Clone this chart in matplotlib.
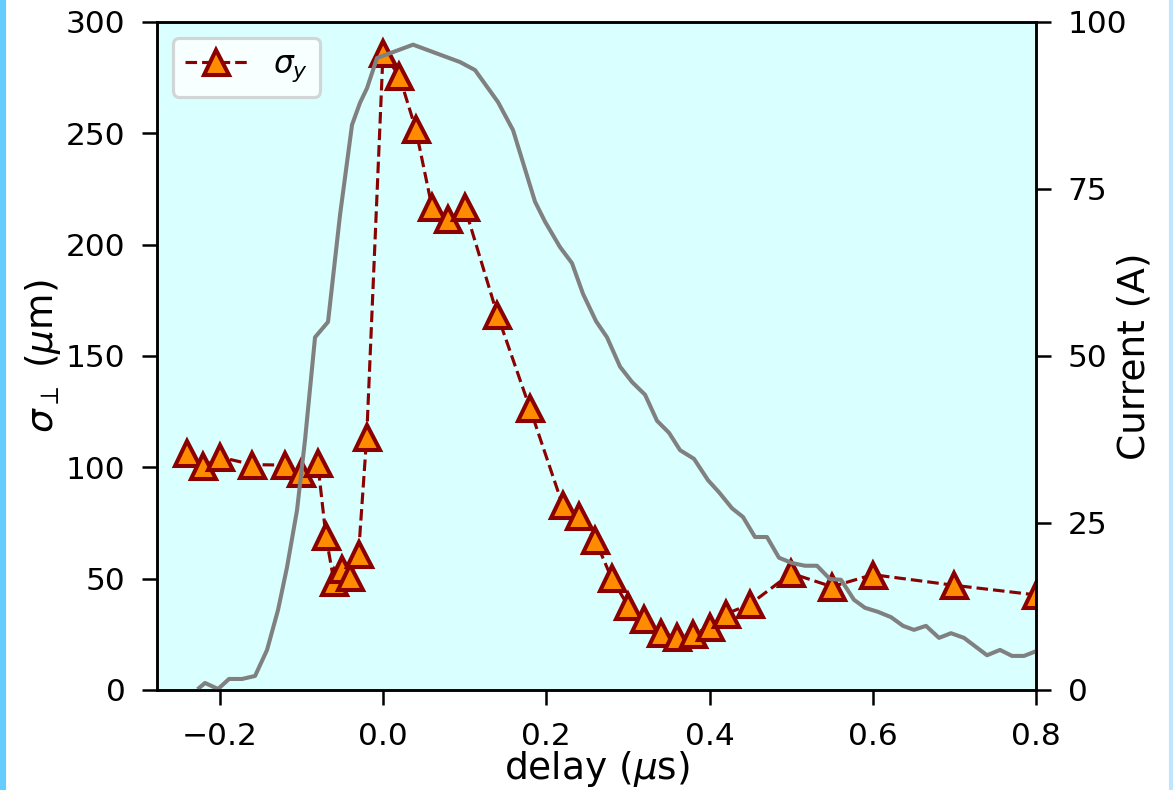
import numpy as np
import matplotlib
matplotlib.use('Agg')
import matplotlib.pyplot as plt
from matplotlib.patches import Rectangle

# -- data -- #
# --------------------------------- #
# beam size (sigma_y) vs delay
delay = [-0.24, -0.22, -0.20, -0.16, -0.12, -0.10, -0.08, -0.07, -0.06, -0.05,
         -0.04, -0.03, -0.02, 0.00, 0.02, 0.04, 0.06, 0.08, 0.10, 0.14,
         0.18, 0.22, 0.24, 0.26, 0.28, 0.30, 0.32, 0.34, 0.36, 0.38,
         0.40, 0.42, 0.45, 0.50, 0.55, 0.60, 0.70, 0.80]
sigma_y = [106.4, 100.7, 104.6, 101.2, 101.0, 97.4, 102.0, 69.2, 48.4, 54.4,
           50.9, 61.2, 113.8, 286.2, 275.7, 252.0, 216.8, 211.7, 217.0, 168.6,
           126.5, 83.1, 78.1, 67.4, 50.2, 37.9, 32.0, 25.4, 24.0, 25.1,
           28.4, 34.1, 38.6, 52.4, 46.4, 51.8, 47.0, 42.7]

# beam current trace (A)
t_cur = [-0.2254, -0.2181, -0.2021, -0.1887, -0.1727, -0.1568, -0.1421, -0.1286,
         -0.1176, -0.1054, -0.0956, -0.0833, -0.0674, -0.0527, -0.0380, -0.0282,
         -0.0196, -0.0074, 0.0368, 0.0943, 0.1127, 0.1409, 0.1593, 0.1862,
         0.1985, 0.2168, 0.2315, 0.2450, 0.2610, 0.2744, 0.2904, 0.3051,
         0.3210, 0.3357, 0.3504, 0.3639, 0.3810, 0.3982, 0.4116, 0.4276,
         0.4410, 0.4557, 0.4704, 0.4851, 0.5011, 0.5170, 0.5317, 0.5476,
         0.5611, 0.5770, 0.5905, 0.6064, 0.6224, 0.6371, 0.6505, 0.6652,
         0.6812, 0.6959, 0.7118, 0.7400, 0.7559, 0.7706, 0.7853, 0.8000]
current = [0.3, 1.05, 0.15, 1.65, 1.65, 2.1, 6.0, 12.0,
           18.4, 26.9, 37.4, 52.8, 55.1, 71.1, 84.6, 87.9,
           90.1, 94.6, 96.6, 94.0, 92.8, 88.0, 83.8, 73.1,
           70.1, 66.3, 63.9, 59.3, 55.2, 52.8, 48.4, 46.1,
           44.2, 40.3, 38.5, 35.9, 34.6, 31.4, 29.6, 27.2,
           25.9, 22.9, 22.9, 19.8, 19.0, 18.6, 18.6, 16.6,
           16.5, 13.5, 12.3, 11.7, 10.9, 9.6, 9.0, 9.6,
           7.8, 8.5, 7.8, 5.2, 6.0, 5.1, 5.1, 5.8]

cur_ticks = [0, 25, 50, 75, 100]

# slightly longer ticks / more padding than the defaults
for k in ['xtick', 'ytick']:
    plt.rcParams[k + '.major.size'] = 4.8
    plt.rcParams[k + '.major.pad'] = 5.3

# -- figure -- #
# ------------ #
dpi = 225
f = plt.figure(figsize=(1173/dpi, 790/dpi), dpi=dpi)
ax = f.add_axes([0.1338, 0.1266, 0.8832-0.1338, 0.9722-0.1266])
ax.set_facecolor('#d9ffff')

ax.plot(delay, sigma_y, '--', color='darkred', lw=1, marker='^', ms=8,
        mfc='darkorange', mec='darkred', mew=1.3, label=r'$\sigma_y$')
ax.set_xlim(-0.277, 0.8)
ax.set_ylim(0, 300)
ax.set_xlabel(r'delay ($\mu$s)', fontsize=12, labelpad=-0.5)
ax.set_ylabel(r'$\sigma_\perp$ ($\mu$m)', fontsize=12, labelpad=1)
ax.legend(loc='upper left')

# current on the right axis
ax2 = ax.twinx()
ax2.plot(t_cur, current, color='gray', lw=1.3)
ax2.set_ylim(0, 100)
ax2.set_yticks(cur_ticks)
ax2.set_ylabel('Current (A)', fontsize=12, labelpad=-3.5)

# light blue border strips at the figure edges
f.patches.append(Rectangle((0, 0), 4/1173, 1, transform=f.transFigure,
                           color='#66ccff', zorder=10))
f.patches.append(Rectangle((1170/1173, 0), 1.5/1173, 1, transform=f.transFigure,
                           color='#bfe6ff', zorder=10))

plt.savefig('out.png', dpi=dpi)
plt.close('all')
